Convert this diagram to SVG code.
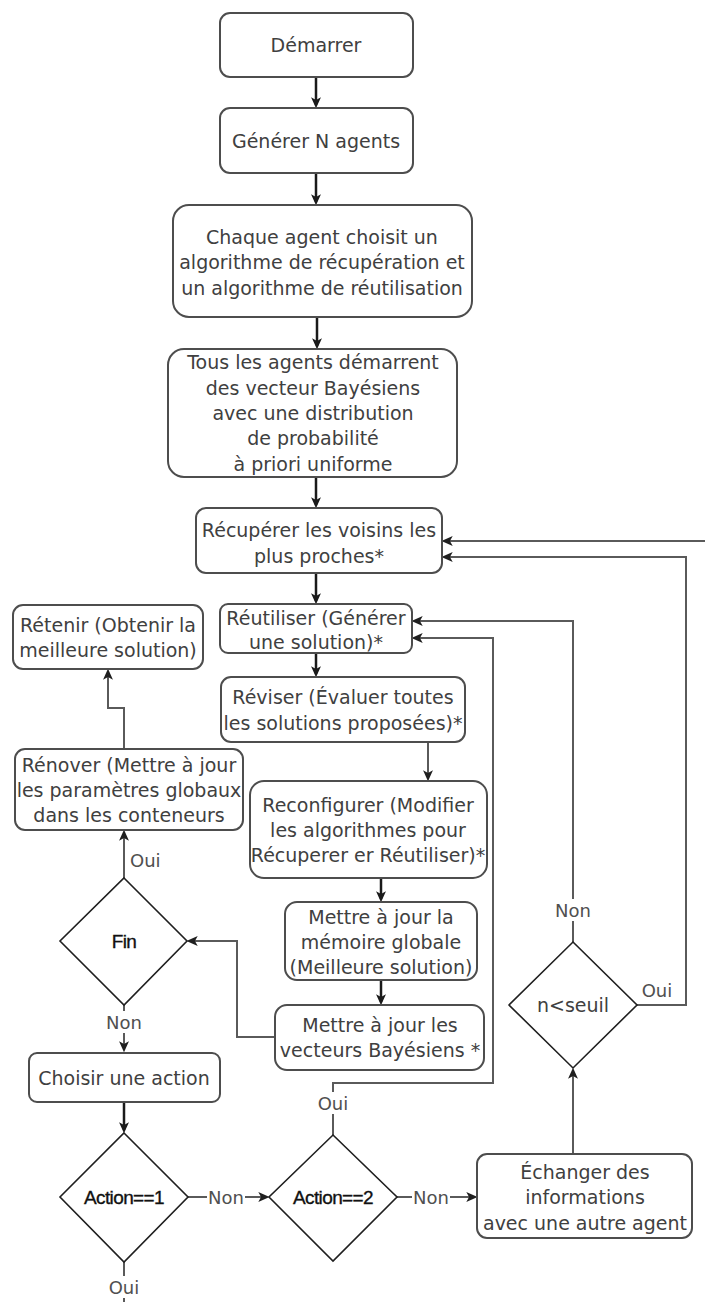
<svg xmlns="http://www.w3.org/2000/svg" width="705" height="1302" viewBox="0 0 705 1302">
  <style>
    .box { fill: #ffffff; stroke: #4d4d4d; stroke-width: 2; }
    .dia { fill: #ffffff; stroke: #1f1f1f; stroke-width: 1.6; }
    .t { font-family: "DejaVu Sans", sans-serif; font-size: 19px; fill: #404040; text-anchor: middle; dominant-baseline: central; }
    .td { font-family: "Liberation Sans", Arial, sans-serif; font-size: 19px; fill: #111111; stroke: #111111; stroke-width: 0.35; text-anchor: middle; dominant-baseline: central; letter-spacing: -0.6px; }
    .lbl { font-family: "DejaVu Sans", sans-serif; font-size: 18px; fill: #505050; dominant-baseline: central; }
    .flow { fill: none; stroke: #1a1a1a; stroke-width: 2.5; marker-end: url(#arrowDark); }
    .link { fill: none; stroke: #5a5a5a; stroke-width: 2; }
    .arr { marker-end: url(#arrowGray); }
    .bg { fill: #ffffff; }
  </style>
  <defs>
    <marker id="arrowDark" viewBox="0 0 10 9" markerWidth="11" markerHeight="10" refX="7" refY="4.5" orient="auto" markerUnits="userSpaceOnUse">
      <path d="M0,0 L10,4.5 L0,9 L2.5,4.5 Z" fill="#1a1a1a"/>
    </marker>
    <marker id="arrowGray" viewBox="0 0 10 9" markerWidth="11" markerHeight="10" refX="7" refY="4.5" orient="auto" markerUnits="userSpaceOnUse">
      <path d="M0,0 L10,4.5 L0,9 L2.5,4.5 Z" fill="#1f1f1f"/>
    </marker>
  </defs>

  <rect width="705" height="1302" fill="#ffffff"/>

  <!-- connectors -->
  <g id="connectors">
    <path class="flow" d="M316,77 V105"/>
    <path class="flow" d="M316,173 V202"/>
    <path class="flow" d="M317,317 V346"/>
    <path class="flow" d="M316,477 V505"/>
    <path class="flow" d="M316,573 V601"/>
    <path class="flow" d="M316,653 V674"/>
    <path class="flow" d="M124,1102 V1130"/>
    <path class="flow" d="M381,878 V899"/>
    <path class="flow" d="M381,980 V1002"/>

    <path class="link arr" d="M428,742 V778"/>
    <path class="link arr" d="M124,749 V708 H108 V672"/>
    <path class="link arr" d="M124,878 V833"/>
    <path class="link arr" d="M275,1037 H237 V941 H190"/>
    <path class="link arr" d="M124,1005 V1049"/>
    <path class="link arr" d="M188,1197 H266"/>
    <path class="link arr" d="M397,1197 H474"/>
    <path class="link" d="M124,1262 V1302"/>
    <path class="link arr" d="M333,1135 V1083 H493 V638 H415"/>
    <path class="link arr" d="M573,1154 V1071"/>
    <path class="link arr" d="M573,942 V621 H415"/>
    <path class="link arr" d="M637,1005 H686 V557 H445"/>
    <path class="link arr" d="M705,541 H445"/>

    <!-- edge labels -->
    <text class="lbl" x="130" y="860">Oui</text>
    <rect class="bg" x="105" y="1011" width="38" height="22"/>
    <text class="lbl" x="124" y="1022" text-anchor="middle">Non</text>
    <rect class="bg" x="207" y="1186" width="38" height="22"/>
    <text class="lbl" x="226" y="1197" text-anchor="middle">Non</text>
    <rect class="bg" x="412" y="1186" width="38" height="22"/>
    <text class="lbl" x="431" y="1197" text-anchor="middle">Non</text>
    <rect class="bg" x="107" y="1276" width="34" height="22"/>
    <text class="lbl" x="124" y="1287" text-anchor="middle">Oui</text>
    <rect class="bg" x="316" y="1092" width="34" height="22"/>
    <text class="lbl" x="333" y="1103" text-anchor="middle">Oui</text>
    <rect class="bg" x="554" y="899" width="38" height="22"/>
    <text class="lbl" x="573" y="910" text-anchor="middle">Non</text>
    <text class="lbl" x="657" y="990" text-anchor="middle">Oui</text>
  </g>

  <g id="demarrer">
    <rect class="box" x="220" y="13" width="193" height="64" rx="10"/>
    <text class="t" x="316" y="45">Démarrer</text>
  </g>

  <g id="generer">
    <rect class="box" x="220" y="108" width="193" height="65" rx="10"/>
    <text class="t" x="316" y="141">Générer N agents</text>
  </g>

  <g id="choix-algorithmes">
    <rect class="box" x="173" y="205" width="299" height="112" rx="16"/>
    <text class="t" x="322" y="237">Chaque agent choisit un</text>
    <text class="t" x="322" y="262">algorithme de récupération et</text>
    <text class="t" x="322" y="288">un algorithme de réutilisation</text>
  </g>

  <g id="vecteurs-initiaux">
    <rect class="box" x="168" y="349" width="289" height="128" rx="16"/>
    <text class="t" x="313" y="362">Tous les agents démarrent</text>
    <text class="t" x="313" y="388">des vecteur Bayésiens</text>
    <text class="t" x="313" y="413">avec une distribution</text>
    <text class="t" x="313" y="438">de probabilité</text>
    <text class="t" x="313" y="464">à priori uniforme</text>
  </g>

  <g id="recuperer">
    <rect class="box" x="196" y="508" width="246" height="65" rx="10"/>
    <text class="t" x="319" y="530">Récupérer les voisins les</text>
    <text class="t" x="319" y="556">plus proches*</text>
  </g>

  <g id="reutiliser">
    <rect class="box" x="220" y="604" width="192" height="49" rx="8"/>
    <text class="t" x="316" y="618">Réutiliser (Générer</text>
    <text class="t" x="316" y="642">une solution)*</text>
  </g>

  <g id="retenir">
    <rect class="box" x="13" y="605" width="190" height="64" rx="10"/>
    <text class="t" x="108" y="625">Rétenir (Obtenir la</text>
    <text class="t" x="108" y="650">meilleure solution)</text>
  </g>

  <g id="reviser">
    <rect class="box" x="221" y="677" width="244" height="65" rx="10"/>
    <text class="t" x="343" y="697">Réviser (Évaluer toutes</text>
    <text class="t" x="343" y="723">les solutions proposées)*</text>
  </g>

  <g id="renover">
    <rect class="box" x="15" y="749" width="228" height="81" rx="10"/>
    <text class="t" x="129" y="765">Rénover (Mettre à jour</text>
    <text class="t" x="129" y="790">les paramètres globaux</text>
    <text class="t" x="129" y="815">dans les conteneurs</text>
  </g>

  <g id="reconfigurer">
    <rect class="box" x="250" y="781" width="237" height="97" rx="14"/>
    <text class="t" x="368" y="805">Reconfigurer (Modifier</text>
    <text class="t" x="368" y="830">les algorithmes pour</text>
    <text class="t" x="368" y="855">Récuperer er Réutiliser)*</text>
  </g>

  <g id="memoire-globale">
    <rect class="box" x="285" y="902" width="192" height="78" rx="12"/>
    <text class="t" x="381" y="917">Mettre à jour la</text>
    <text class="t" x="381" y="942">mémoire globale</text>
    <text class="t" x="381" y="967">(Meilleure solution)</text>
  </g>

  <g id="vecteurs-bayesiens">
    <rect class="box" x="275" y="1005" width="209" height="65" rx="12"/>
    <text class="t" x="380" y="1025">Mettre à jour les</text>
    <text class="t" x="380" y="1050">vecteurs Bayésiens *</text>
  </g>

  <g id="fin">
    <polygon class="dia" points="124,878 187,941 124,1005 60,941"/>
    <text class="td" x="124" y="941">Fin</text>
  </g>

  <g id="choisir-action">
    <rect class="box" x="29" y="1053" width="191" height="49" rx="8"/>
    <text class="t" x="124" y="1078">Choisir une action</text>
  </g>

  <g id="action1">
    <polygon class="dia" points="124,1133 188,1197 124,1262 60,1197"/>
    <text class="td" x="124" y="1197">Action==1</text>
  </g>

  <g id="action2">
    <polygon class="dia" points="333,1135 397,1197 333,1261 269,1197"/>
    <text class="td" x="333" y="1197">Action==2</text>
  </g>

  <g id="echanger">
    <rect class="box" x="477" y="1154" width="215" height="84" rx="10"/>
    <text class="t" x="585" y="1172">Échanger des</text>
    <text class="t" x="585" y="1197">informations</text>
    <text class="t" x="585" y="1223">avec une autre agent</text>
  </g>

  <g id="seuil">
    <polygon class="dia" points="573,942 637,1005 573,1068 509,1005"/>
    <text class="t" x="573" y="1005">n&lt;seuil</text>
  </g>
</svg>
